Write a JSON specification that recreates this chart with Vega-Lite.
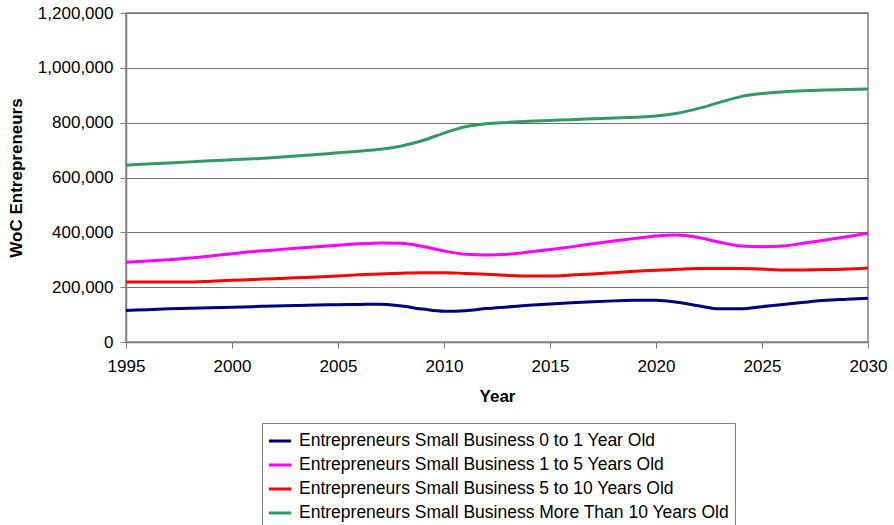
{
  "$schema": "https://vega.github.io/schema/vega-lite/v6.json",
  "autosize": "none",
  "width": 742,
  "height": 329,
  "padding": {"left": 126, "top": 13, "right": 26, "bottom": 183},
  "background": "white",
  "config": {
    "font": "Liberation Sans",
    "view": {"stroke": "#808080", "strokeWidth": 1.5},
    "axis": {"labelFont": "Liberation Sans", "titleFont": "Liberation Sans", "labelColor": "black", "titleColor": "black"}
  },
  "data": {
    "values": [
      {"year": 1995, "a": 115, "b": 291, "c": 219, "d": 645},
      {"year": 1996, "a": 118, "b": 295, "c": 219, "d": 649},
      {"year": 1997, "a": 121, "b": 300, "c": 219, "d": 653},
      {"year": 1998, "a": 123, "b": 306, "c": 219, "d": 657},
      {"year": 1999, "a": 125, "b": 314, "c": 222, "d": 661},
      {"year": 2000, "a": 127, "b": 322, "c": 225, "d": 665},
      {"year": 2001, "a": 129, "b": 330, "c": 228, "d": 668},
      {"year": 2002, "a": 131, "b": 336, "c": 231, "d": 673},
      {"year": 2003, "a": 133, "b": 342, "c": 234, "d": 678},
      {"year": 2004, "a": 135, "b": 347, "c": 237, "d": 684},
      {"year": 2005, "a": 136, "b": 353, "c": 241, "d": 690},
      {"year": 2006, "a": 137, "b": 358, "c": 245, "d": 696},
      {"year": 2007, "a": 138, "b": 361, "c": 248, "d": 703},
      {"year": 2008, "a": 131, "b": 360, "c": 251, "d": 715},
      {"year": 2009, "a": 120, "b": 348, "c": 253, "d": 735},
      {"year": 2010, "a": 112, "b": 332, "c": 253, "d": 762},
      {"year": 2011, "a": 114, "b": 320, "c": 250, "d": 785},
      {"year": 2012, "a": 122, "b": 317, "c": 247, "d": 796},
      {"year": 2013, "a": 128, "b": 320, "c": 243, "d": 801},
      {"year": 2014, "a": 134, "b": 328, "c": 241, "d": 805},
      {"year": 2015, "a": 139, "b": 337, "c": 241, "d": 808},
      {"year": 2016, "a": 143, "b": 347, "c": 244, "d": 811},
      {"year": 2017, "a": 147, "b": 358, "c": 248, "d": 814},
      {"year": 2018, "a": 150, "b": 368, "c": 253, "d": 817},
      {"year": 2019, "a": 152, "b": 378, "c": 258, "d": 820},
      {"year": 2020, "a": 152, "b": 387, "c": 262, "d": 824},
      {"year": 2021, "a": 145, "b": 390, "c": 265, "d": 834},
      {"year": 2022, "a": 132, "b": 381, "c": 268, "d": 852},
      {"year": 2023, "a": 121, "b": 364, "c": 268, "d": 874},
      {"year": 2024, "a": 121, "b": 350, "c": 268, "d": 895},
      {"year": 2025, "a": 129, "b": 347, "c": 266, "d": 906},
      {"year": 2026, "a": 137, "b": 350, "c": 263, "d": 912},
      {"year": 2027, "a": 145, "b": 361, "c": 263, "d": 916},
      {"year": 2028, "a": 152, "b": 372, "c": 264, "d": 919},
      {"year": 2029, "a": 156, "b": 384, "c": 266, "d": 921},
      {"year": 2030, "a": 160, "b": 397, "c": 270, "d": 923}
    ]
  },
  "transform": [
    {"fold": ["a", "b", "c", "d"], "as": ["key", "thousands"]},
    {"lookup": "key", "from": {"data": {"values": [
      {"key": "a", "series": "Entrepreneurs Small Business 0 to 1 Year Old"},
      {"key": "b", "series": "Entrepreneurs Small Business 1 to 5 Years Old"},
      {"key": "c", "series": "Entrepreneurs Small Business 5 to 10 Years Old"},
      {"key": "d", "series": "Entrepreneurs Small Business More Than 10 Years Old"}
    ]}, "key": "key", "fields": ["series"]}}
  ],
  "mark": {"type": "line", "interpolate": "monotone"},
  "encoding": {
    "x": {
      "field": "year", "type": "quantitative",
      "scale": {"domain": [1995, 2030], "nice": false, "zero": false},
      "axis": {
        "title": "Year", "titleFontSize": 17, "titleFontWeight": "bold", "titlePadding": 14,
        "values": [1995, 2000, 2005, 2010, 2015, 2020, 2025, 2030], "format": "d",
        "labelFontSize": 17, "labelPadding": 10, "tickSize": 6, "tickColor": "#808080",
        "domainColor": "#808080", "domainWidth": 1.5, "grid": false, "labelFlush": false
      }
    },
    "y": {
      "field": "thousands", "type": "quantitative",
      "scale": {"domain": [0, 1200], "nice": false},
      "axis": {
        "title": "WoC Entrepreneurs", "titleFontSize": 17, "titleFontWeight": "bold", "titlePadding": 12,
        "values": [0, 200, 400, 600, 800, 1000, 1200], "labelExpr": "format(datum.value * 1000, ',d')",
        "labelFontSize": 17, "labelPadding": 7, "tickSize": 6, "tickColor": "#808080",
        "domainColor": "#808080", "domainWidth": 1.5, "grid": true, "gridColor": "#707070", "gridWidth": 1.2
      }
    },
    "color": {
      "field": "series", "type": "nominal",
      "scale": {
        "domain": [
          "Entrepreneurs Small Business 0 to 1 Year Old",
          "Entrepreneurs Small Business 1 to 5 Years Old",
          "Entrepreneurs Small Business 5 to 10 Years Old",
          "Entrepreneurs Small Business More Than 10 Years Old"
        ],
        "range": ["#000080", "#FF00FF", "#FF0000", "#339966"]
      },
      "legend": {
        "title": null, "orient": "none", "legendX": 136, "legendY": 410,
        "direction": "vertical", "strokeColor": "#808080", "padding": 5,
        "symbolType": "stroke", "symbolSize": 500, "symbolStrokeWidth": 3,
        "labelFontSize": 17.5, "labelLimit": 600, "rowPadding": 2, "labelOffset": 6,
        "labelColor": "black"
      }
    },
    "strokeWidth": {
      "field": "series", "type": "nominal",
      "scale": {
        "domain": [
          "Entrepreneurs Small Business 0 to 1 Year Old",
          "Entrepreneurs Small Business 1 to 5 Years Old",
          "Entrepreneurs Small Business 5 to 10 Years Old",
          "Entrepreneurs Small Business More Than 10 Years Old"
        ],
        "range": [3, 3, 5.5, 5.5]
      },
      "legend": null
    }
  }
}
